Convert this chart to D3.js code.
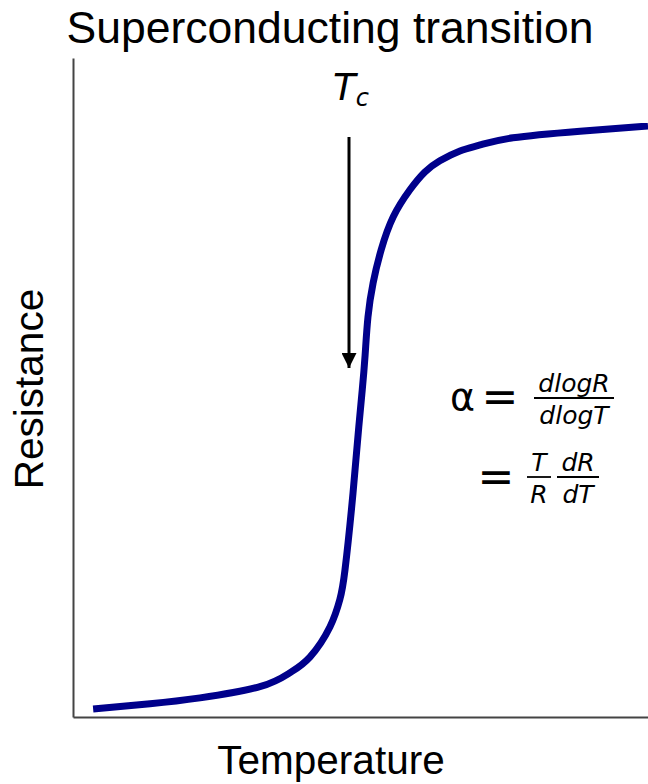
<!DOCTYPE html>
<html>
<head>
<meta charset="utf-8">
<script src="https://cdn.jsdelivr.net/npm/d3@7"></script>
<style>
  html, body { margin: 0; padding: 0; background: #fff; }
  svg { display: block; }
  .sans { font-family: "Liberation Sans", Arial, Helvetica, sans-serif; }
  .math { font-family: "DejaVu Sans", sans-serif; font-style: italic; }
</style>
</head>
<body>
<script>
// Temperature (arbitrary units, 0–100 across the axis)
const temperature = [3.5, 13.4, 22.1, 32.5, 37.7, 41.2, 44.7, 46.4, 47.3, 48.7, 49.7, 50.3, 50.8, 51.3, 52.2, 53.6, 55.7, 58.6, 61.2, 63.8, 67.3, 70.8, 76.5, 88.2, 100];
// Resistance (arbitrary units, 0–100 up the axis)
const resistance = [1.2, 2.0, 2.9, 4.6, 6.7, 9.1, 13.7, 17.8, 22.3, 34.0, 44.0, 49.6, 54.9, 60.7, 65.9, 70.9, 75.9, 80.0, 82.7, 84.4, 85.9, 86.8, 87.9, 88.9, 89.7];
// Position of the transition temperature marker
const tcTemperature = [48.0];

const W = 648, H = 784;
const margin = { left: 73, right: 0, top: 58, bottom: 67 };

const svg = d3.select("body").append("svg")
  .attr("width", W).attr("height", H);

const x = d3.scaleLinear().domain([0, 100]).range([margin.left, W - margin.right]);
const y = d3.scaleLinear().domain([0, 100]).range([H - margin.bottom, margin.top]);

// Axes: plain lines, no ticks
const xAxis = d3.axisBottom(x).tickValues([]).tickSizeOuter(0);
const yAxis = d3.axisLeft(y).tickValues([]).tickSizeOuter(0);
svg.append("g").attr("transform", `translate(0,${y(0)})`).call(xAxis)
  .select(".domain").attr("stroke", "#444").attr("stroke-width", 2);
svg.append("g").attr("transform", `translate(${x(0)},0)`).call(yAxis)
  .select(".domain").attr("stroke", "#444").attr("stroke-width", 2);

// Resistance curve
const pts = temperature.map((t, i) => [t, resistance[i]]);
const line = d3.line().x(d => x(d[0])).y(d => y(d[1])).curve(d3.curveNatural);
svg.append("path").datum(pts)
  .attr("d", line)
  .attr("fill", "none")
  .attr("stroke", "#00008b")
  .attr("stroke-width", 7)
  .attr("stroke-linecap", "butt");

// Title and axis labels
svg.append("text").attr("class", "sans")
  .attr("x", 330).attr("y", 43)
  .attr("text-anchor", "middle")
  .attr("font-size", 44.5)
  .text("Superconducting transition");

svg.append("text").attr("class", "sans")
  .attr("x", 331).attr("y", 774)
  .attr("text-anchor", "middle")
  .attr("font-size", 40.5)
  .text("Temperature");

svg.append("text").attr("class", "sans")
  .attr("transform", "translate(43,389) rotate(-90)")
  .attr("text-anchor", "middle")
  .attr("font-size", 40.5)
  .text("Resistance");

// Tc arrow
const ax = x(tcTemperature[0]);
svg.append("defs").append("marker")
  .attr("id", "head")
  .attr("viewBox", "0 0 10 10")
  .attr("refX", 10).attr("refY", 5)
  .attr("markerWidth", 28).attr("markerHeight", 15)
  .attr("markerUnits", "userSpaceOnUse")
  .attr("orient", "auto")
  .append("path").attr("d", "M0,0 L10,5 L0,10 Z").attr("fill", "#000");
svg.append("line")
  .attr("x1", ax).attr("x2", ax)
  .attr("y1", 137).attr("y2", 368)
  .attr("stroke", "#000").attr("stroke-width", 3)
  .attr("marker-end", "url(#head)");

const tc = svg.append("text").attr("class", "math")
  .attr("x", ax + 2).attr("y", 100).attr("text-anchor", "middle")
  .attr("font-size", 37);
tc.append("tspan").text("T");
tc.append("tspan").attr("font-size", 24).attr("dy", 6).text("c");

// Formula: alpha = dlogR/dlogT = (T/R)(dR/dT)
const f = svg.append("g").attr("class", "math");
f.append("text").attr("x", 450).attr("y", 410).attr("font-size", 38)
  .attr("font-style", "normal").text("α");
f.append("text").attr("x", 500).attr("y", 412).attr("font-size", 44)
  .attr("font-style", "normal").attr("text-anchor", "middle").text("=");

function frac(cx, num, den, barW, yBar, size) {
  f.append("text").attr("x", cx).attr("y", yBar - 6).attr("text-anchor", "middle")
    .attr("font-size", size).text(num);
  f.append("line").attr("x1", cx - barW / 2).attr("x2", cx + barW / 2)
    .attr("y1", yBar).attr("y2", yBar)
    .attr("stroke", "#000").attr("stroke-width", 1.8);
  f.append("text").attr("x", cx).attr("y", yBar + 26).attr("text-anchor", "middle")
    .attr("font-size", size).text(den);
}
frac(574, "dlogR", "dlogT", 80, 398, 25);

f.append("text").attr("x", 496).attr("y", 492).attr("font-size", 44)
  .attr("font-style", "normal").attr("text-anchor", "middle").text("=");
frac(539, "T", "R", 24, 477, 25);
frac(578, "dR", "dT", 42, 477, 25);
</script>
</body>
</html>
